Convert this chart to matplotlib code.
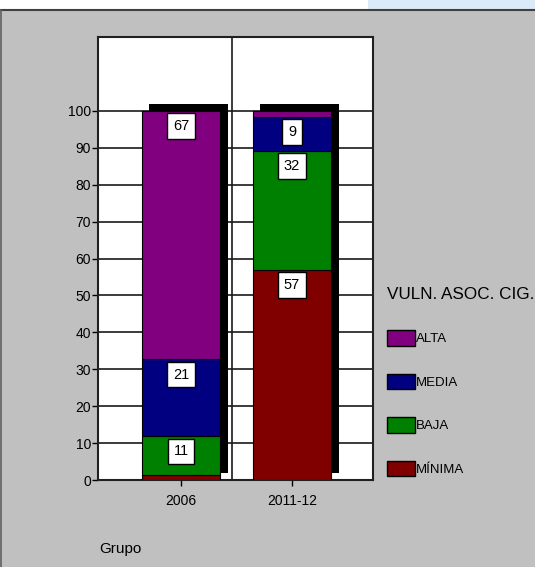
import numpy as np
import matplotlib
matplotlib.use("Agg")
import matplotlib.pyplot as plt
from matplotlib.patches import Patch, Rectangle

# data (percent of each group)
groups = ["2006", "2011-12"]
levels = ["MÍNIMA", "BAJA", "MEDIA", "ALTA"]
minima = [1.3, 57.0]
baja = [10.6, 32.2]
media = [20.8, 9.2]
alta = [67.3, 1.6]
colors = ["#800000", "#008000", "#000080", "#800080"]

plt.rcParams["font.family"] = ["Liberation Sans", "DejaVu Sans"]

W, H = 535, 567
fig = plt.figure(figsize=(W / 100, H / 100), dpi=100, facecolor="#c0c0c0")

# window decoration: white strip on top, dark frame line
fig.add_artist(Rectangle((0, 1 - 9 / H), 1, 9 / H, transform=fig.transFigure,
                         facecolor="white", edgecolor="none"))
fig.add_artist(Rectangle((368 / W, 1 - 9 / H), 1, 9 / H, transform=fig.transFigure,
                         facecolor="#dce9f8", edgecolor="none"))
fig.add_artist(plt.Line2D([0, 1], [1 - 9.5 / H, 1 - 9.5 / H], transform=fig.transFigure,
                          color="#404040", lw=1.5))
fig.add_artist(plt.Line2D([1.5 / W, 1.5 / W], [0, 1 - 9.5 / H], transform=fig.transFigure,
                          color="#606060", lw=1.2))

ax = fig.add_axes([98 / W, 87 / H, 275 / W, 443 / H])
ax.set_facecolor("white")

x = np.arange(len(groups))
width = 0.71
series = [minima, baja, media, alta]
totals = np.sum(series, axis=0)

# 3D-ish black shadow behind the stacks
ax.bar(x + 0.065, totals, width, bottom=1.9, color="black", zorder=2)

bottom = np.zeros(len(groups))
for vals, col in zip(series, colors):
    vals = np.array(vals)
    ax.bar(x, vals, width, bottom=bottom, color=col, edgecolor="black",
           linewidth=0.8, zorder=3)
    for xi, b, v in zip(x, bottom, vals):
        if v >= 5:
            ax.annotate(f"{v:.0f}", xy=(xi, b + v), xytext=(0, -6),
                        textcoords="offset points", ha="center", va="top",
                        fontsize=10.5, zorder=5,
                        bbox=dict(boxstyle="square,pad=0.4", facecolor="white",
                                  edgecolor="black", linewidth=1))
    bottom += vals

ax.set_xlim(-0.748, 1.73)
ax.set_ylim(0, 120)
ax.set_yticks(np.arange(0, 101, 10))
ax.set_xticks(x)
ax.set_xticklabels(groups)
ax.yaxis.grid(True, color="#1a1a1a", linewidth=1.2, zorder=1)
ax.set_axisbelow(True)
ax.axvline(0.46, color="#1a1a1a", linewidth=1.2, zorder=1)
ax.tick_params(axis="y", length=4, width=1, pad=1, labelsize=10)
ax.tick_params(axis="x", length=4, width=1, pad=6, labelsize=10)
for s in ax.spines.values():
    s.set_linewidth(1.5)
    s.set_color("#202020")

fig.text(99 / W, 1 - 549 / H, "Grupo", fontsize=11, ha="left", va="center")

handles = [Patch(facecolor=c, edgecolor="black", linewidth=1) for c in colors]
leg = fig.legend(handles[::-1], levels[::-1], title="VULN. ASOC. CIG.",
                 loc="upper left", bbox_to_anchor=(387 / W, 1 - 287 / H),
                 frameon=False, fontsize=9.5, title_fontsize=12.3,
                 handlelength=2.12, handleheight=1.44, handletextpad=0.1,
                 labelspacing=2.12, borderpad=0, borderaxespad=0,
                 alignment="left")

fig.savefig("out.png", dpi=100, facecolor=fig.get_facecolor())
